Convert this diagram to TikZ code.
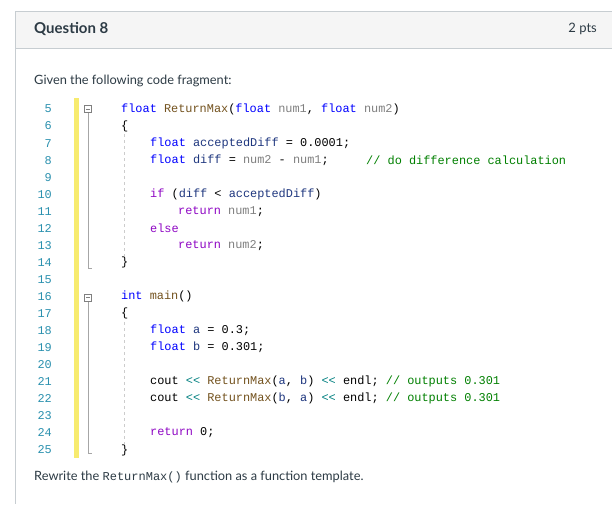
\documentclass[tikz,border=0pt]{standalone}
\usepackage{fontspec}
\setmainfont{Lato}
\setmonofont{Liberation Mono}
\definecolor{kwc}{HTML}{0000FF}
\definecolor{fnc}{HTML}{74531F}
\definecolor{vrc}{HTML}{1F377F}
\definecolor{pmc}{HTML}{808080}
\definecolor{ctc}{HTML}{8F08C4}
\definecolor{cmc}{HTML}{008000}
\definecolor{opc}{HTML}{008080}
\definecolor{lnc}{HTML}{2B91AF}
\definecolor{hdr}{HTML}{F5F5F5}
\definecolor{brd}{HTML}{C7CDD1}
\definecolor{txt}{HTML}{2D3B45}
\definecolor{codebarcol}{RGB}{247,235,111}
\newcommand{\kw}[1]{\textcolor{kwc}{#1}}
\newcommand{\fnn}[1]{\textcolor{fnc}{#1}}
\newcommand{\vr}[1]{\textcolor{vrc}{#1}}
\newcommand{\prm}[1]{\textcolor{pmc}{#1}}
\newcommand{\ctl}[1]{\textcolor{ctc}{#1}}
\newcommand{\cmt}[1]{\textcolor{cmc}{#1}}
\newcommand{\opr}[1]{\textcolor{opc}{#1}}
\begin{document}
\begin{tikzpicture}[x=1pt,y=-1pt,
  code/.style={anchor=west,inner sep=0pt,font=\fontsize{11.9}{12}\ttfamily},
  lnum/.style={anchor=east,inner sep=0pt,font=\fontsize{11.9}{12}\ttfamily,text=lnc},
  prose/.style={anchor=west,inner sep=0pt,font=\fontsize{12.8}{14}\selectfont,text=txt},
  fold/.style={draw=pmc,fill=white,line width=0.6pt,minimum size=7pt,inner sep=0pt}]
\useasboundingbox (0,0) rectangle (612,504);
\fill[white] (0,0) rectangle (612,504);
\fill[hdr] (15,11) rectangle (612,48);
\draw[brd,line width=0.8pt] (612,11) -- (15,11) -- (15,504);
\draw[brd,line width=0.8pt] (15,48) -- (612,48);
\node[prose,font=\fontsize{15}{17}\bfseries\selectfont] (q) at (34,29) {Question 8};
\node[prose,anchor=east,font=\fontsize{13}{14}\selectfont] (pts) at (597,29) {2 pts};
\node[prose] (given) at (34,81) {Given the following code fragment:};
% yellow bar
\fill[fill=codebarcol] (74,98) rectangle (79,458);
% line numbers
\foreach \n in {5,...,25}{
  \node[lnum] (n\n) at (52,{109+(\n-5)*17.05}) {\n};
}
% fold markers
\draw[pmc!70,line width=0.7pt] (88,113) -- (88,268) -- (92,268);
\draw[pmc!70,line width=0.7pt] (88,301) -- (88,453) -- (92,453);
\node[fold] (f1) at (88,109) {}; \draw[pmc,line width=0.6pt] (86,109) -- (90,109);
\node[fold] (f2) at (88,297.6) {}; \draw[pmc,line width=0.6pt] (86,297.6) -- (90,297.6);
% indent guides
\draw[pmc!40,dashed,line width=0.4pt] (124,134) -- (124,256);
\draw[pmc!40,dashed,line width=0.4pt] (124,322) -- (124,444);
\def\Y#1{{109+(#1-5)*17.05}}
\node[code] (c5) at (121,\Y5) {\kw{float} \fnn{ReturnMax}(\kw{float} \prm{num1}, \kw{float} \prm{num2})};
\node[code] (c6) at (121,\Y6) {\{};
\node[code] (c7) at (150,\Y7) {\kw{float} \vr{acceptedDiff} = 0.0001;};
\node[code] (c8) at (150,\Y8) {\kw{float} \vr{diff} = \prm{num2} - \prm{num1};};
\node[code] (c8b) at (366,\Y8) {\cmt{// do difference calculation}};
\node[code] (c10) at (150,\Y{10}) {\ctl{if} (\vr{diff} < \vr{acceptedDiff})};
\node[code] (c11) at (178,\Y{11}) {\ctl{return} \prm{num1};};
\node[code] (c12) at (150,\Y{12}) {\ctl{else}};
\node[code] (c13) at (178,\Y{13}) {\ctl{return} \prm{num2};};
\node[code] (c14) at (121,\Y{14}) {\}};
\node[code] (c16) at (121,\Y{16}) {\kw{int} \fnn{main}()};
\node[code] (c17) at (121,\Y{17}) {\{};
\node[code] (c18) at (150,\Y{18}) {\kw{float} \vr{a} = 0.3;};
\node[code] (c19) at (150,\Y{19}) {\kw{float} \vr{b} = 0.301;};
\node[code] (c21) at (150,\Y{21}) {cout \opr{<<} \fnn{ReturnMax}(\vr{a}, \vr{b}) \opr{<<} endl; \cmt{// outputs 0.301}};
\node[code] (c22) at (150,\Y{22}) {cout \opr{<<} \fnn{ReturnMax}(\vr{b}, \vr{a}) \opr{<<} endl; \cmt{// outputs 0.301}};
\node[code] (c24) at (150,\Y{24}) {\ctl{return} 0;};
\node[code] (c25) at (121,\Y{25}) {\}};
\node[prose] (rw) at (34,477) {Rewrite the {\fontsize{12}{12}\ttfamily ReturnMax()} function as a function template.};
\end{tikzpicture}
\end{document}
